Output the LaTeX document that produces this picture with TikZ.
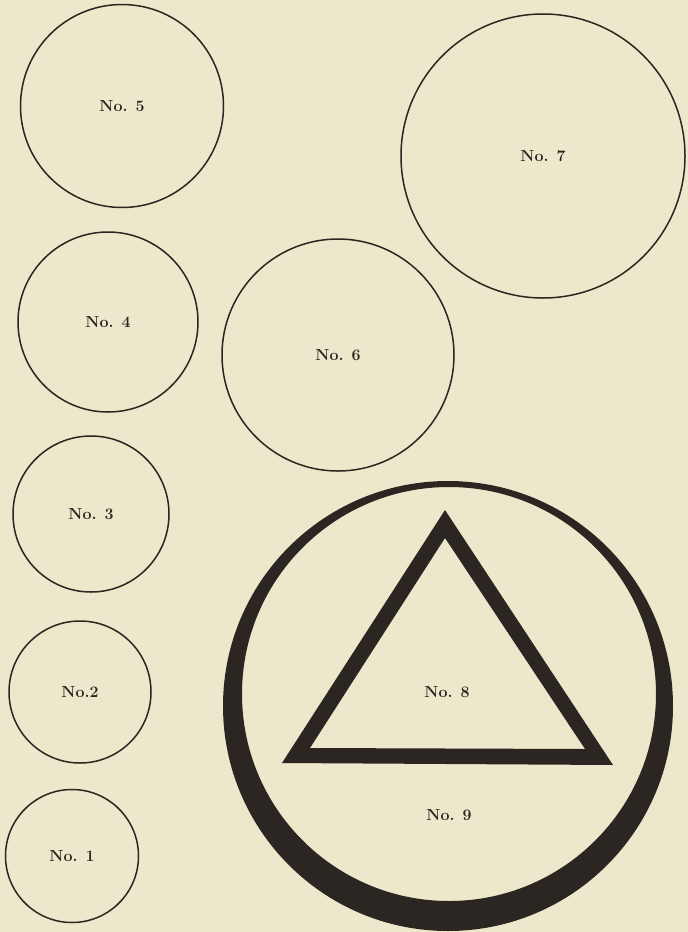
\documentclass[tikz,border=0pt]{standalone}
\usepackage{xcolor}
\usepackage{tikz}
\definecolor{platecream}{HTML}{EDE7CB}
\definecolor{plateink}{HTML}{2B2621}

\begin{document}
\begin{tikzpicture}[x=1pt,y=-1pt,
    disc/.style={circle,draw=plateink,line width=1.5pt,inner sep=0pt},
    tag/.style={text=plateink,font=\fontsize{16}{16}\selectfont\bfseries}]
  \fill[platecream] (0,0) rectangle (688,932);
  \useasboundingbox (0,0) rectangle (688,932);
  \foreach \n/\lab/\x/\y/\d in {5/{No. 5}/122/106/203,4/{No. 4}/108/322/180,3/{No. 3}/91/514/156,2/{No.2}/80/692/142,1/{No. 1}/72/856/133,6/{No. 6}/338/355/232,7/{No. 7}/543/156/284} {
    \node[disc,minimum size=\d pt] (c\n) at (\x,\y) {};
    \node[tag] (l\n) at (c\n.center) {\lab};
  }
  % ring and triangle
  \fill[plateink,even odd rule] (448,706) circle (225pt) (449,694) circle (207pt);
  \fill[plateink,even odd rule] (445,510) -- (282,763) -- (613,765) -- cycle
    (445,538) -- (310,748) -- (585,749) -- cycle;
  \node[tag] (l8) at (447,692) {No. 8};
  \node[tag] (l9) at (449,815) {No. 9};
\end{tikzpicture}
\end{document}
